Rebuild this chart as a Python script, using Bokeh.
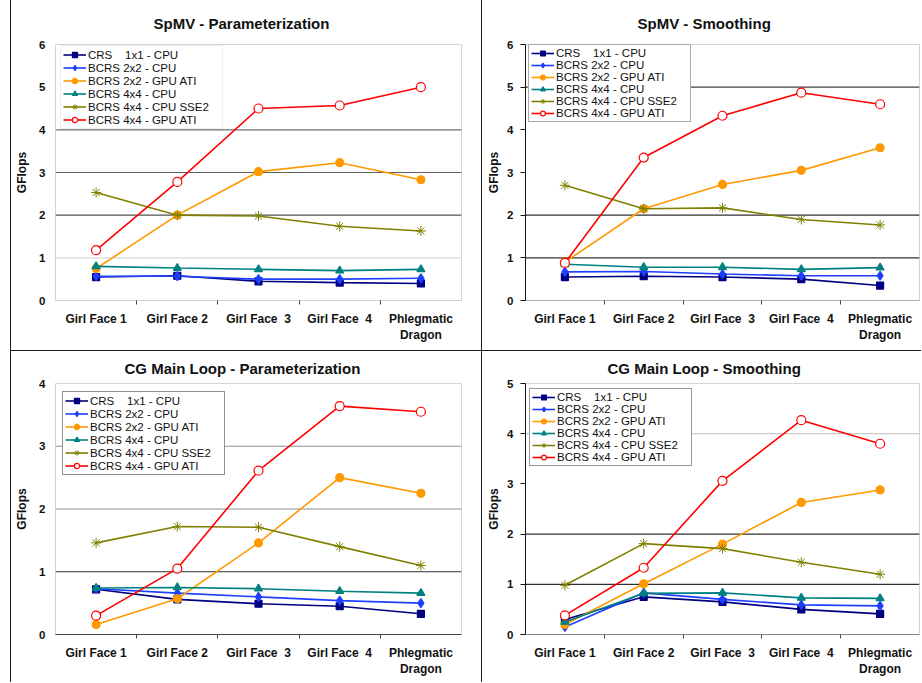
from bokeh.plotting import figure
from bokeh.models import Range1d, FixedTicker, Legend, LegendItem, Span, Div, Spacer
from bokeh.layouts import row, column
from bokeh.embed import file_html
from bokeh.resources import INLINE

# ---------------- data ----------------
categories = ["Girl Face 1", "Girl Face 2", "Girl Face\u00a0\u00a03", "Girl Face\u00a0\u00a04",
              "Phlegmatic\nDragon"]
series_labels = ["CRS\u00a0\u00a0\u00a0\u00a01x1 - CPU", "BCRS 2x2 - CPU", "BCRS 2x2 - GPU ATI",
                 "BCRS 4x4 - CPU", "BCRS 4x4 - CPU SSE2", "BCRS 4x4 - GPU ATI"]

# SpMV - Parameterization
spmv_par_crs_1x1_cpu = [0.55, 0.58, 0.45, 0.42, 0.40]
spmv_par_bcrs_2x2_cpu = [0.57, 0.57, 0.50, 0.50, 0.52]
spmv_par_bcrs_2x2_gpu = [0.75, 2.00, 3.02, 3.23, 2.83]
spmv_par_bcrs_4x4_cpu = [0.80, 0.76, 0.73, 0.70, 0.73]
spmv_par_bcrs_4x4_sse2 = [2.53, 2.00, 1.98, 1.74, 1.63]
spmv_par_bcrs_4x4_gpu = [1.18, 2.78, 4.50, 4.57, 5.00]

# SpMV - Smoothing
spmv_smo_crs_1x1_cpu = [0.55, 0.57, 0.55, 0.50, 0.35]
spmv_smo_bcrs_2x2_cpu = [0.67, 0.68, 0.62, 0.58, 0.58]
spmv_smo_bcrs_2x2_gpu = [0.90, 2.15, 2.72, 3.05, 3.58]
spmv_smo_bcrs_4x4_cpu = [0.85, 0.78, 0.78, 0.73, 0.77]
spmv_smo_bcrs_4x4_sse2 = [2.70, 2.15, 2.17, 1.90, 1.77]
spmv_smo_bcrs_4x4_gpu = [0.88, 3.35, 4.33, 4.87, 4.60]

# CG Main Loop - Parameterization
cg_par_crs_1x1_cpu = [0.72, 0.56, 0.49, 0.45, 0.33]
cg_par_bcrs_2x2_cpu = [0.73, 0.66, 0.60, 0.54, 0.50]
cg_par_bcrs_2x2_gpu = [0.16, 0.57, 1.46, 2.50, 2.25]
cg_par_bcrs_4x4_cpu = [0.74, 0.75, 0.73, 0.69, 0.66]
cg_par_bcrs_4x4_sse2 = [1.46, 1.72, 1.71, 1.40, 1.10]
cg_par_bcrs_4x4_gpu = [0.30, 1.05, 2.61, 3.64, 3.55]

# CG Main Loop - Smoothing
cg_smo_crs_1x1_cpu = [0.30, 0.75, 0.65, 0.50, 0.41]
cg_smo_bcrs_2x2_cpu = [0.15, 0.83, 0.70, 0.59, 0.57]
cg_smo_bcrs_2x2_gpu = [0.20, 1.01, 1.80, 2.63, 2.88]
cg_smo_bcrs_4x4_cpu = [0.25, 0.82, 0.83, 0.73, 0.72]
cg_smo_bcrs_4x4_sse2 = [0.98, 1.81, 1.71, 1.44, 1.20]
cg_smo_bcrs_4x4_gpu = [0.38, 1.33, 3.06, 4.27, 3.80]

spmv_y_ticks = [0, 1, 2, 3, 4, 5, 6]
cg_par_y_ticks = [0, 1, 2, 3, 4]
cg_smo_y_ticks = [0, 1, 2, 3, 4, 5]

# ---------------- styles ----------------
series_styles = [
    dict(color="#000080", marker="square", size=7, fill="#000080", lw=1.2),
    dict(color="#1f3fff", marker="diamond", size=9, fill="#1f3fff", lw=1.2),
    dict(color="#ff9900", marker="circle", size=8, fill="#ff9900", lw=1.2),
    dict(color="#008080", marker="triangle", size=8, fill="#008080", lw=1.2),
    dict(color="#808000", marker="asterisk", size=10, fill="#808000", lw=1.0),
    dict(color="#ff0000", marker="circle", size=9, fill="#ffffff", lw=1.2),
]
FONT = "Liberation Sans"


def make_panel(title, series, y_ticks, grid_shades, w, h, bl, br, bt, bb,
               title_offset, title_standoff, legend_xy, legend_border, legend_row,
               yaxis_visible_line, xaxis_line_color, x_standoff):
    p = figure(width=w, height=h, output_backend="svg", toolbar_location=None,
               x_range=Range1d(0, len(categories)),
               y_range=Range1d(y_ticks[0], y_ticks[-1]),
               min_border_left=bl, min_border_right=br,
               min_border_top=bt, min_border_bottom=bb, title=title)
    p.title.align = "left"
    p.title.offset = title_offset
    p.title.standoff = title_standoff
    p.title.text_font = FONT
    p.title.text_font_size = "15px"
    p.title.text_font_style = "bold"
    p.title.text_color = "#111111"
    p.outline_line_color = "#d4d4d4"
    p.background_fill_color = "white"
    p.border_fill_color = "white"
    p.xgrid.visible = False
    p.ygrid.visible = False

    for v, shade in zip(y_ticks, grid_shades):
        if shade:
            p.add_layout(Span(location=v, dimension="width", line_color=shade,
                              line_width=1.2, level="underlay"))

    xs = [i + 0.5 for i in range(len(categories))]
    items = []
    for label, ys, st in zip(series_labels, series, series_styles):
        lr = p.line(xs, ys, line_color=st["color"], line_width=1.6)
        sr = p.scatter(xs, ys, marker=st["marker"], size=st["size"],
                       fill_color=st["fill"], line_color=st["color"], line_width=st["lw"])
        items.append(LegendItem(label=label, renderers=[lr, sr]))

    legend = Legend(items=items, location=legend_xy, border_line_color=legend_border,
                    border_line_width=1, padding=2, spacing=0, margin=0,
                    label_text_font=FONT, label_text_font_size="11.5px",
                    label_text_color="#111111", glyph_width=23, glyph_height=legend_row,
                    label_height=legend_row, label_width=132, label_standoff=2,
                    background_fill_color="white", background_fill_alpha=1.0)
    p.add_layout(legend)

    # x axis: category labels centred, separator ticks between categories
    xa = p.xaxis[0]
    xa.ticker = FixedTicker(ticks=xs, minor_ticks=list(range(1, len(categories))))
    xa.major_label_overrides = {x: c for x, c in zip(xs, categories)}
    xa.major_tick_out = 0
    xa.major_tick_in = 0
    xa.minor_tick_out = 4
    xa.minor_tick_in = 0
    xa.minor_tick_line_color = "#444444"
    xa.axis_line_color = xaxis_line_color
    xa.major_label_standoff = x_standoff
    xa.major_label_text_font = FONT
    xa.major_label_text_font_size = "12px"
    xa.major_label_text_font_style = "bold"
    xa.major_label_text_color = "#111111"

    ya = p.yaxis[0]
    ya.ticker = FixedTicker(ticks=y_ticks)
    ya.minor_tick_line_color = None
    ya.axis_label = "GFlops"
    ya.axis_label_text_font = FONT
    ya.axis_label_text_font_size = "12px"
    ya.axis_label_text_font_style = "bold"
    ya.axis_label_text_color = "#111111"
    ya.major_label_text_font = FONT
    ya.major_label_text_font_size = "11.5px"
    ya.major_label_text_font_style = "bold"
    ya.major_label_text_color = "#111111"
    if yaxis_visible_line:
        ya.axis_line_color = "#111111"
        ya.major_tick_line_color = "#111111"
        ya.major_tick_out = 5
        ya.major_tick_in = 0
        ya.major_label_standoff = 7
        ya.axis_label_standoff = 3
    else:
        ya.axis_line_color = None
        ya.major_tick_line_color = None
        ya.major_tick_out = 0
        ya.major_tick_in = 0
        ya.major_label_standoff = 10
        ya.axis_label_standoff = 7
    return p


p1 = make_panel("SpMV - Parameterization",
                [spmv_par_crs_1x1_cpu, spmv_par_bcrs_2x2_cpu, spmv_par_bcrs_2x2_gpu,
                 spmv_par_bcrs_4x4_cpu, spmv_par_bcrs_4x4_sse2, spmv_par_bcrs_4x4_gpu],
                spmv_y_ticks, [None, "#d8d8d8", "#505050", "#606060", "#707070", None, None],
                470, 350, 44, 20, 40, 50, 98, 25, (5, 171), "#dddddd", 13,
                False, "#d0d0d0", 7)

p2 = make_panel("SpMV - Smoothing",
                [spmv_smo_crs_1x1_cpu, spmv_smo_bcrs_2x2_cpu, spmv_smo_bcrs_2x2_gpu,
                 spmv_smo_bcrs_4x4_cpu, spmv_smo_bcrs_4x4_sse2, spmv_smo_bcrs_4x4_gpu],
                spmv_y_ticks, [None, "#303030", "#303030", None, None, "#404040", None],
                439, 350, 43, 2, 40, 50, 112, 25, (3, 178), "#555555", 12,
                True, "#b0b0b0", 7)

p3 = make_panel("CG Main Loop - Parameterization",
                [cg_par_crs_1x1_cpu, cg_par_bcrs_2x2_cpu, cg_par_bcrs_2x2_gpu,
                 cg_par_bcrs_4x4_cpu, cg_par_bcrs_4x4_sse2, cg_par_bcrs_4x4_gpu],
                cg_par_y_ticks, [None, "#303030", "#909090", "#909090", None],
                470, 331, 44, 20, 32, 48, 69, 13, (7, 159), "#222222", 13,
                False, "#444444", 7)

p4 = make_panel("CG Main Loop - Smoothing",
                [cg_smo_crs_1x1_cpu, cg_smo_bcrs_2x2_cpu, cg_smo_bcrs_2x2_gpu,
                 cg_smo_bcrs_4x4_cpu, cg_smo_bcrs_4x4_sse2, cg_smo_bcrs_4x4_gpu],
                cg_smo_y_ticks, [None, "#303030", "#303030", None, "#cccccc", None],
                439, 331, 43, 2, 32, 48, 82, 13, (4, 168), "#333333", 12,
                True, "#888888", 7)


def vline(h):
    return Div(text="", width=1, height=h, margin=0,
               styles={"background-color": "#1a1a1a"})


def hline(w):
    return Div(text="", width=w, height=1, margin=0,
               styles={"background-color": "#1a1a1a"})


layout = row(
    Spacer(width=10, height=682, margin=0),
    vline(682),
    column(
        row(p1, vline(350), p2, spacing=0),
        hline(910),
        row(p3, vline(331), p4, spacing=0),
        spacing=0,
    ),
    spacing=0,
)

open("out.html", "w").write(file_html(layout, INLINE))
